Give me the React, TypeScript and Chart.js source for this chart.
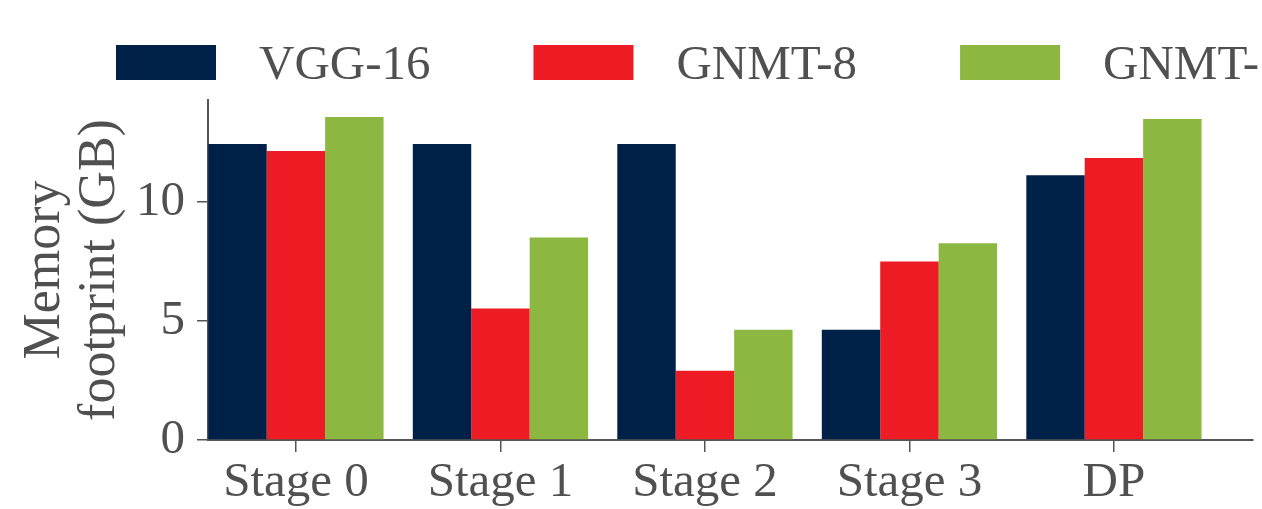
import React, { useEffect, useRef } from "react";
import { Chart, registerables } from "chart.js";

Chart.register(...registerables);

// Pipeline stages and the memory each model uses on them (GB)
const categories = ["Stage 0", "Stage 1", "Stage 2", "Stage 3", "DP"];
const vgg16 = [12.45, 12.45, 12.45, 4.64, 11.14];
const gnmt8 = [12.15, 5.53, 2.91, 7.51, 11.86];
const gnmt16 = [13.59, 8.52, 4.64, 8.27, 13.5];
const yTickValues = [0, 5, 10];

const seriesNames = ["VGG-16", "GNMT-8", "GNMT-16"];
const seriesColors = ["#002147", "#ED1C24", "#8CB841"];

const FONT = '"Liberation Serif", "Times New Roman", serif';
const TEXT = "#505050";
const AXIS = "#555555";

// Wide horizontal legend drawn across the top of the canvas
const topLegend = {
  id: "topLegend",
  afterDraw(chart: any) {
    const ctx = chart.ctx;
    ctx.save();
    ctx.font = `49px ${FONT}`;
    ctx.textBaseline = "alphabetic";
    ctx.textAlign = "left";
    let x = 116;
    chart.data.datasets.forEach((ds: any) => {
      ctx.fillStyle = ds.backgroundColor;
      ctx.fillRect(x, 45, 100, 35);
      x += 100 + 43;
      ctx.fillStyle = TEXT;
      ctx.fillText(ds.label, x, 79);
      x += ctx.measureText(ds.label).width + 103;
    });
    ctx.restore();
  },
};

export default function App() {
  const ref = useRef<HTMLCanvasElement | null>(null);

  useEffect(() => {
    if (!ref.current) return;
    const series = [vgg16, gnmt8, gnmt16];
    const chart = new Chart(ref.current, {
      type: "bar",
      data: {
        datasets: series.map((vals, s) => ({
          label: seriesNames[s],
          data: vals.map((v, i) => ({ x: i, y: v })),
          backgroundColor: seriesColors[s],
          borderWidth: 0,
          categoryPercentage: 0.857,
          barPercentage: 1,
        })),
      },
      plugins: [topLegend],
      options: {
        animation: false,
        responsive: false,
        devicePixelRatio: 1,
        layout: { padding: { top: 100, right: 9, left: 0, bottom: 0 } },
        plugins: {
          legend: { display: false },
          tooltip: { enabled: false },
        },
        scales: {
          x: {
            type: "linear",
            offset: false,
            min: -0.43,
            max: 4.68,
            afterBuildTicks: (s: any) => {
              s.ticks = categories.map((_, i) => ({ value: i }));
            },
            afterFit: (s: any) => {
              s.height = 69;
            },
            grid: {
              offset: false,
              drawOnChartArea: false,
              drawTicks: true,
              tickLength: 12,
              color: AXIS,
              lineWidth: 1.5,
            },
            border: { display: true, color: AXIS, width: 2 },
            ticks: {
              autoSkip: false,
              maxRotation: 0,
              padding: 4,
              color: TEXT,
              font: { family: FONT, size: 49, lineHeight: 1.1 },
              callback: (v: any) => categories[Math.round(Number(v))] ?? "",
            },
          },
          y: {
            min: 0,
            max: 14.3,
            afterBuildTicks: (s: any) => {
              s.ticks = yTickValues.map((v) => ({ value: v }));
            },
            afterFit: (s: any) => {
              s.width = 208;
            },
            grid: {
              drawOnChartArea: false,
              drawTicks: true,
              tickLength: 11,
              color: AXIS,
              lineWidth: 1.5,
            },
            border: { display: true, color: AXIS, width: 2 },
            ticks: {
              padding: 12,
              color: TEXT,
              font: { family: FONT, size: 49, lineHeight: 1.1 },
            },
            title: {
              display: true,
              text: ["Memory", "footprint (GB)"],
              color: TEXT,
              font: { family: FONT, size: 52, lineHeight: 1.06 },
              padding: { top: 18, bottom: 0 },
            },
          },
        },
      },
    });
    return () => chart.destroy();
  }, []);

  return (
    <div style={{ position: "absolute", left: 0, top: 0, width: 1262, height: 509 }}>
      <canvas ref={ref} width={1262} height={509} />
    </div>
  );
}
